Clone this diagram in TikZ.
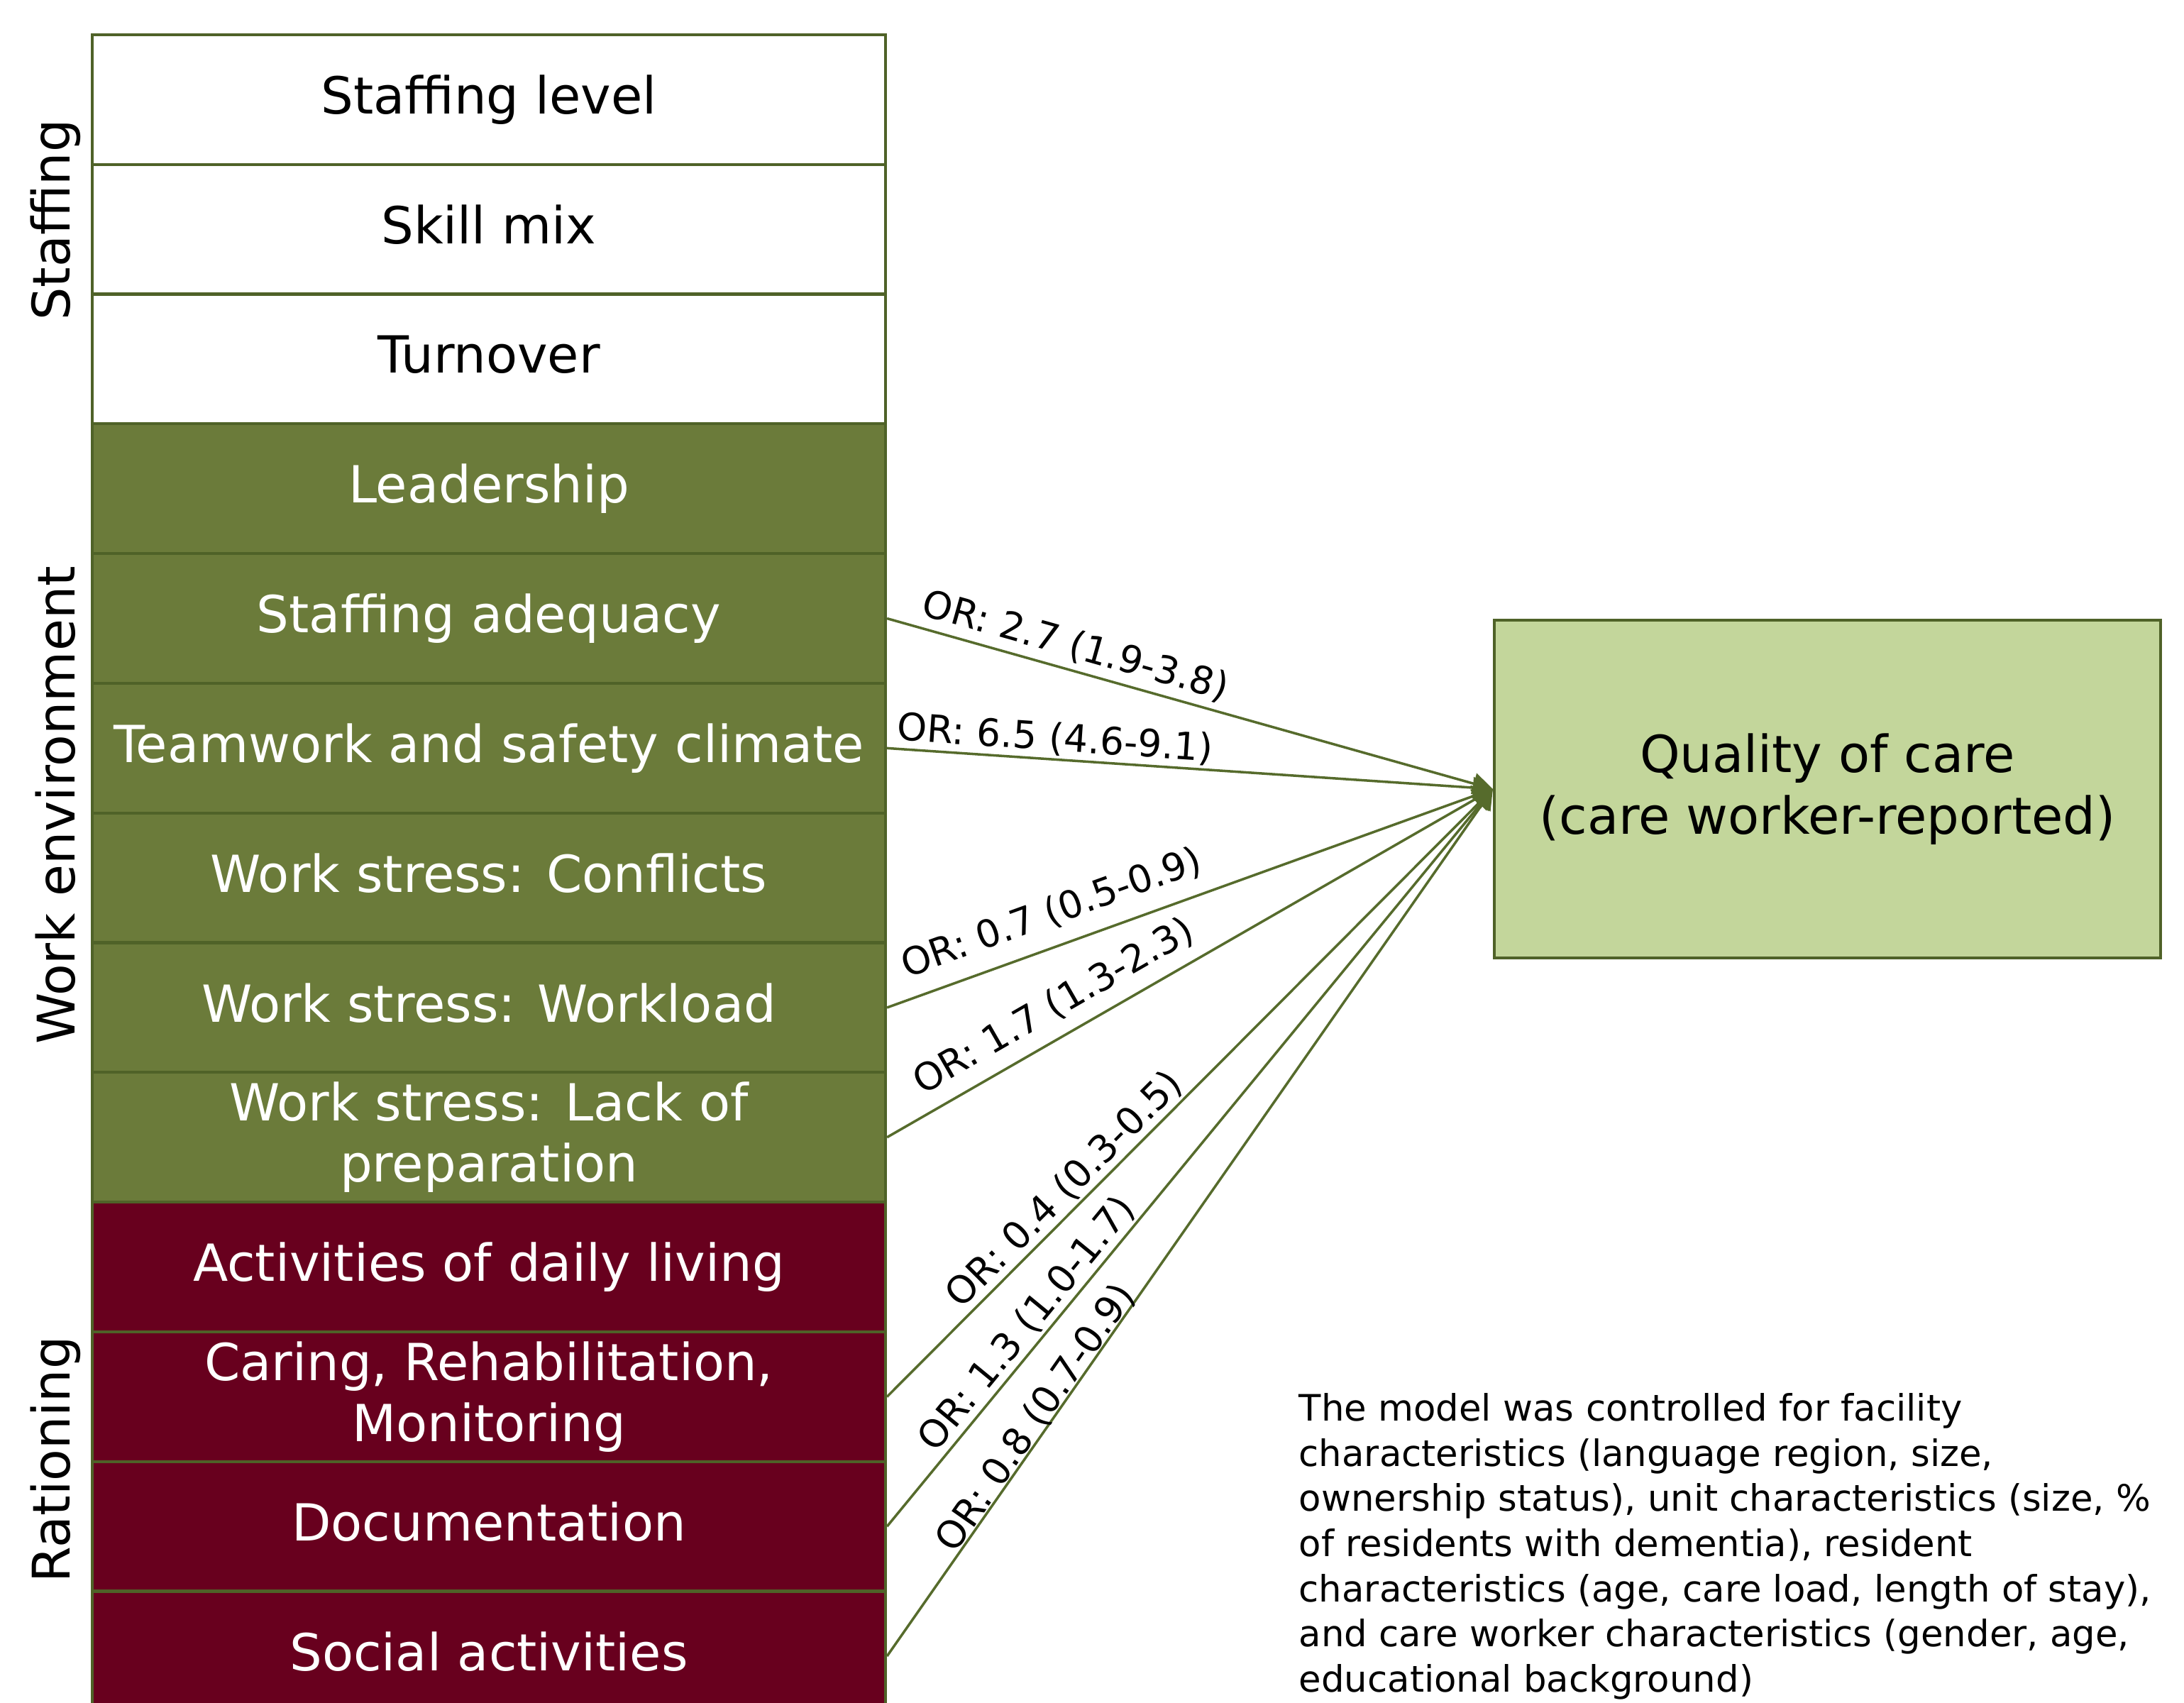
\documentclass[tikz,border=0pt]{standalone}
\usepackage{fontspec}
\setmainfont{DejaVu Sans}
\usetikzlibrary{arrows.meta}

\definecolor{edge}{HTML}{4F6228}
\definecolor{envgreen}{HTML}{6B7B3A}
\definecolor{ratered}{HTML}{68001E}
\definecolor{qualgreen}{HTML}{C3D69B}
\definecolor{linkgreen}{HTML}{566B2C}

\tikzset{
	cell/.style={draw=edge, line width=1.2pt, minimum width=11.18cm, minimum height=1.828cm, inner sep=0pt, align=center, text height=18pt, text depth=6.6pt, font=\fontsize{20.5}{24.6}\selectfont},
	twoline/.style={text height={}, text depth={}},
	staffcell/.style={cell, fill=white, text=black},
	envcell/.style={cell, fill=envgreen, text=white},
	ratecell/.style={cell, fill=ratered, text=white},
	group/.style={rotate=90, inner sep=0pt, font=\fontsize{20.8}{25}\selectfont},
	link/.style={draw=linkgreen, line width=1pt, -{Triangle[length=0.28cm,width=0.3cm]}},
	orlabel/.style={sloped, above, inner sep=1pt, text=black, font=\fontsize{15.2}{18}\selectfont},
}

\begin{document}
\begin{tikzpicture}
			%%%%% START %%%%%
			\useasboundingbox (0, 0) rectangle (30.78, 24);
			
			% staffing
			\node[staffcell] (lvl) at (6.89, 22.596) {Staffing level};
			\node[staffcell] (skill) at (6.89, 20.768) {Skill mix};
			\node[staffcell] (turnover) at (6.89, 18.94) {Turnover};
			
			% work environment
			\node[envcell] (lead) at (6.89, 17.112) {Leadership};
			\node[envcell] (adeq) at (6.89, 15.284) {Staffing adequacy};
			\node[envcell] (team) at (6.89, 13.456) {Teamwork and safety climate};
			\node[envcell] (conflict) at (6.89, 11.628) {Work stress: Conflicts};
			\node[envcell] (workload) at (6.89, 9.8) {Work stress: Workload};
			\node[envcell, twoline] (prep) at (6.89, 7.972) {Work stress: Lack of\\preparation};
			
			% rationing
			\node[ratecell] (adl) at (6.89, 6.144) {Activities of daily living};
			\node[ratecell, twoline] (caring) at (6.89, 4.316) {Caring, Rehabilitation,\\Monitoring};
			\node[ratecell] (doc) at (6.89, 2.488) {Documentation};
			\node[ratecell] (social) at (6.89, 0.66) {Social activities};
			
			\node[group] (staffing) at (0.78, 20.9) {Staffing};
			\node[group] (workenv) at (0.78, 12.65) {Work environment};
			\node[group] (rationing) at (0.78, 3.43) {Rationing};
			
			\node[draw=edge, line width=1.2pt, fill=qualgreen, minimum width=9.39cm, minimum height=4.76cm, align=center, font=\fontsize{20.5}{24.6}\selectfont] (quality) at (25.755, 12.88) {Quality of care\\(care worker-reported)};
			
			\draw[link] (adeq.east) -- node[orlabel, above=1.5pt, pos=0.30] {OR: 2.7 (1.9-3.8)} (quality.west);
			\draw[link] (team.east) -- node[orlabel, pos=0.275] {OR: 6.5 (4.6-9.1)} (quality.west);
			\draw[link] (workload.east) -- node[orlabel, above=5pt, pos=0.29] {OR: 0.7 (0.5-0.9)} (quality.west);
			\draw[link] (prep.east) -- node[orlabel, above=4pt, pos=0.30] {OR: 1.7 (1.3-2.3)} (quality.west);
			\draw[link] (caring.east) -- node[orlabel, pos=0.317] {OR: 0.4 (0.3-0.5)} (quality.west);
			\draw[link] (doc.east) -- node[orlabel, pos=0.257] {OR: 1.3 (1.0-1.7)} (quality.west);
			\draw[link] (social.east) -- node[orlabel, above=-2.5pt, pos=0.265] {OR: 0.8 (0.7-0.9)} (quality.west);
			
			\node[anchor=north west, inner sep=0pt, align=left, font=\fontsize{14.6}{18.1}\selectfont] (note) at (18.3, 4.37) {The model was controlled for facility\\characteristics (language region, size,\\ownership status), unit characteristics (size, \%\\of residents with dementia), resident\\characteristics (age, care load, length of stay),\\and care worker characteristics (gender, age,\\educational background)};
			
			%%%%% END %%%%%
		\end{tikzpicture}
\end{document}
